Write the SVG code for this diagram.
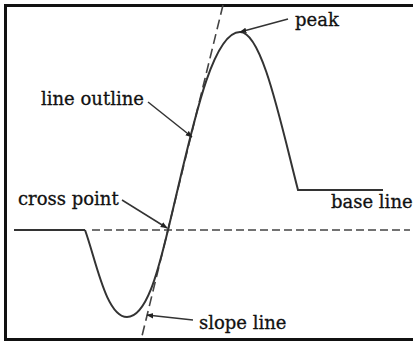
<svg xmlns="http://www.w3.org/2000/svg" width="413" height="342" viewBox="0 0 413 342">
<style>
.t{font-family:"DejaVu Serif","Liberation Serif",serif;font-size:18px;fill:#111;stroke:#111;stroke-width:0.3}
.c{fill:none;stroke:#333;stroke-width:2}
.d{fill:none;stroke:#444;stroke-width:1.6}
.a{fill:none;stroke:#333;stroke-width:1.5}
</style>
<defs>
<marker id="ah" viewBox="0 0 10 10" refX="9" refY="5" markerWidth="7" markerHeight="7" orient="auto" markerUnits="userSpaceOnUse">
<path d="M0,1 L10,5 L0,9 Z" fill="#222"/>
</marker>
</defs>
<rect x="0" y="0" width="413" height="342" fill="#fff"/>
<path d="M414,5.5 H5.5 V339.5 H414" fill="none" stroke="#111" stroke-width="3"/>
<g id="baseline-left"><path class="c" d="M14,230 H85"/></g>
<g id="zero-line"><path class="d" d="M92,230 H410" stroke-dasharray="8,4"/></g>
<g id="slope-line"><path class="d" d="M223,5 L142,336" stroke-dasharray="10,5"/></g>
<g id="waveform">
<path class="c" d="M85,230 C96,260 106,317 127,317 C148,317 160,262 168,230 C190,140 210,32 240,32 C262,32 280,120 298,190 H383"/>
</g>
<g id="connectors">
<path class="a" d="M288,19 L240,32" marker-end="url(#ah)"/>
<path class="a" d="M148,102 L192,137" marker-end="url(#ah)"/>
<path class="a" d="M122,200 L167,228" marker-end="url(#ah)"/>
<path class="a" d="M193,320 L147,315" marker-end="url(#ah)"/>
</g>
<g id="label-peak"><text class="t" x="295" y="26">peak</text></g>
<g id="label-line-outline"><text class="t" x="41" y="105">line outline</text></g>
<g id="label-cross-point"><text class="t" x="18" y="205">cross point</text></g>
<g id="label-base-line"><text class="t" x="331" y="208">base line</text></g>
<g id="label-slope-line"><text class="t" x="199" y="329">slope line</text></g>
</svg>
